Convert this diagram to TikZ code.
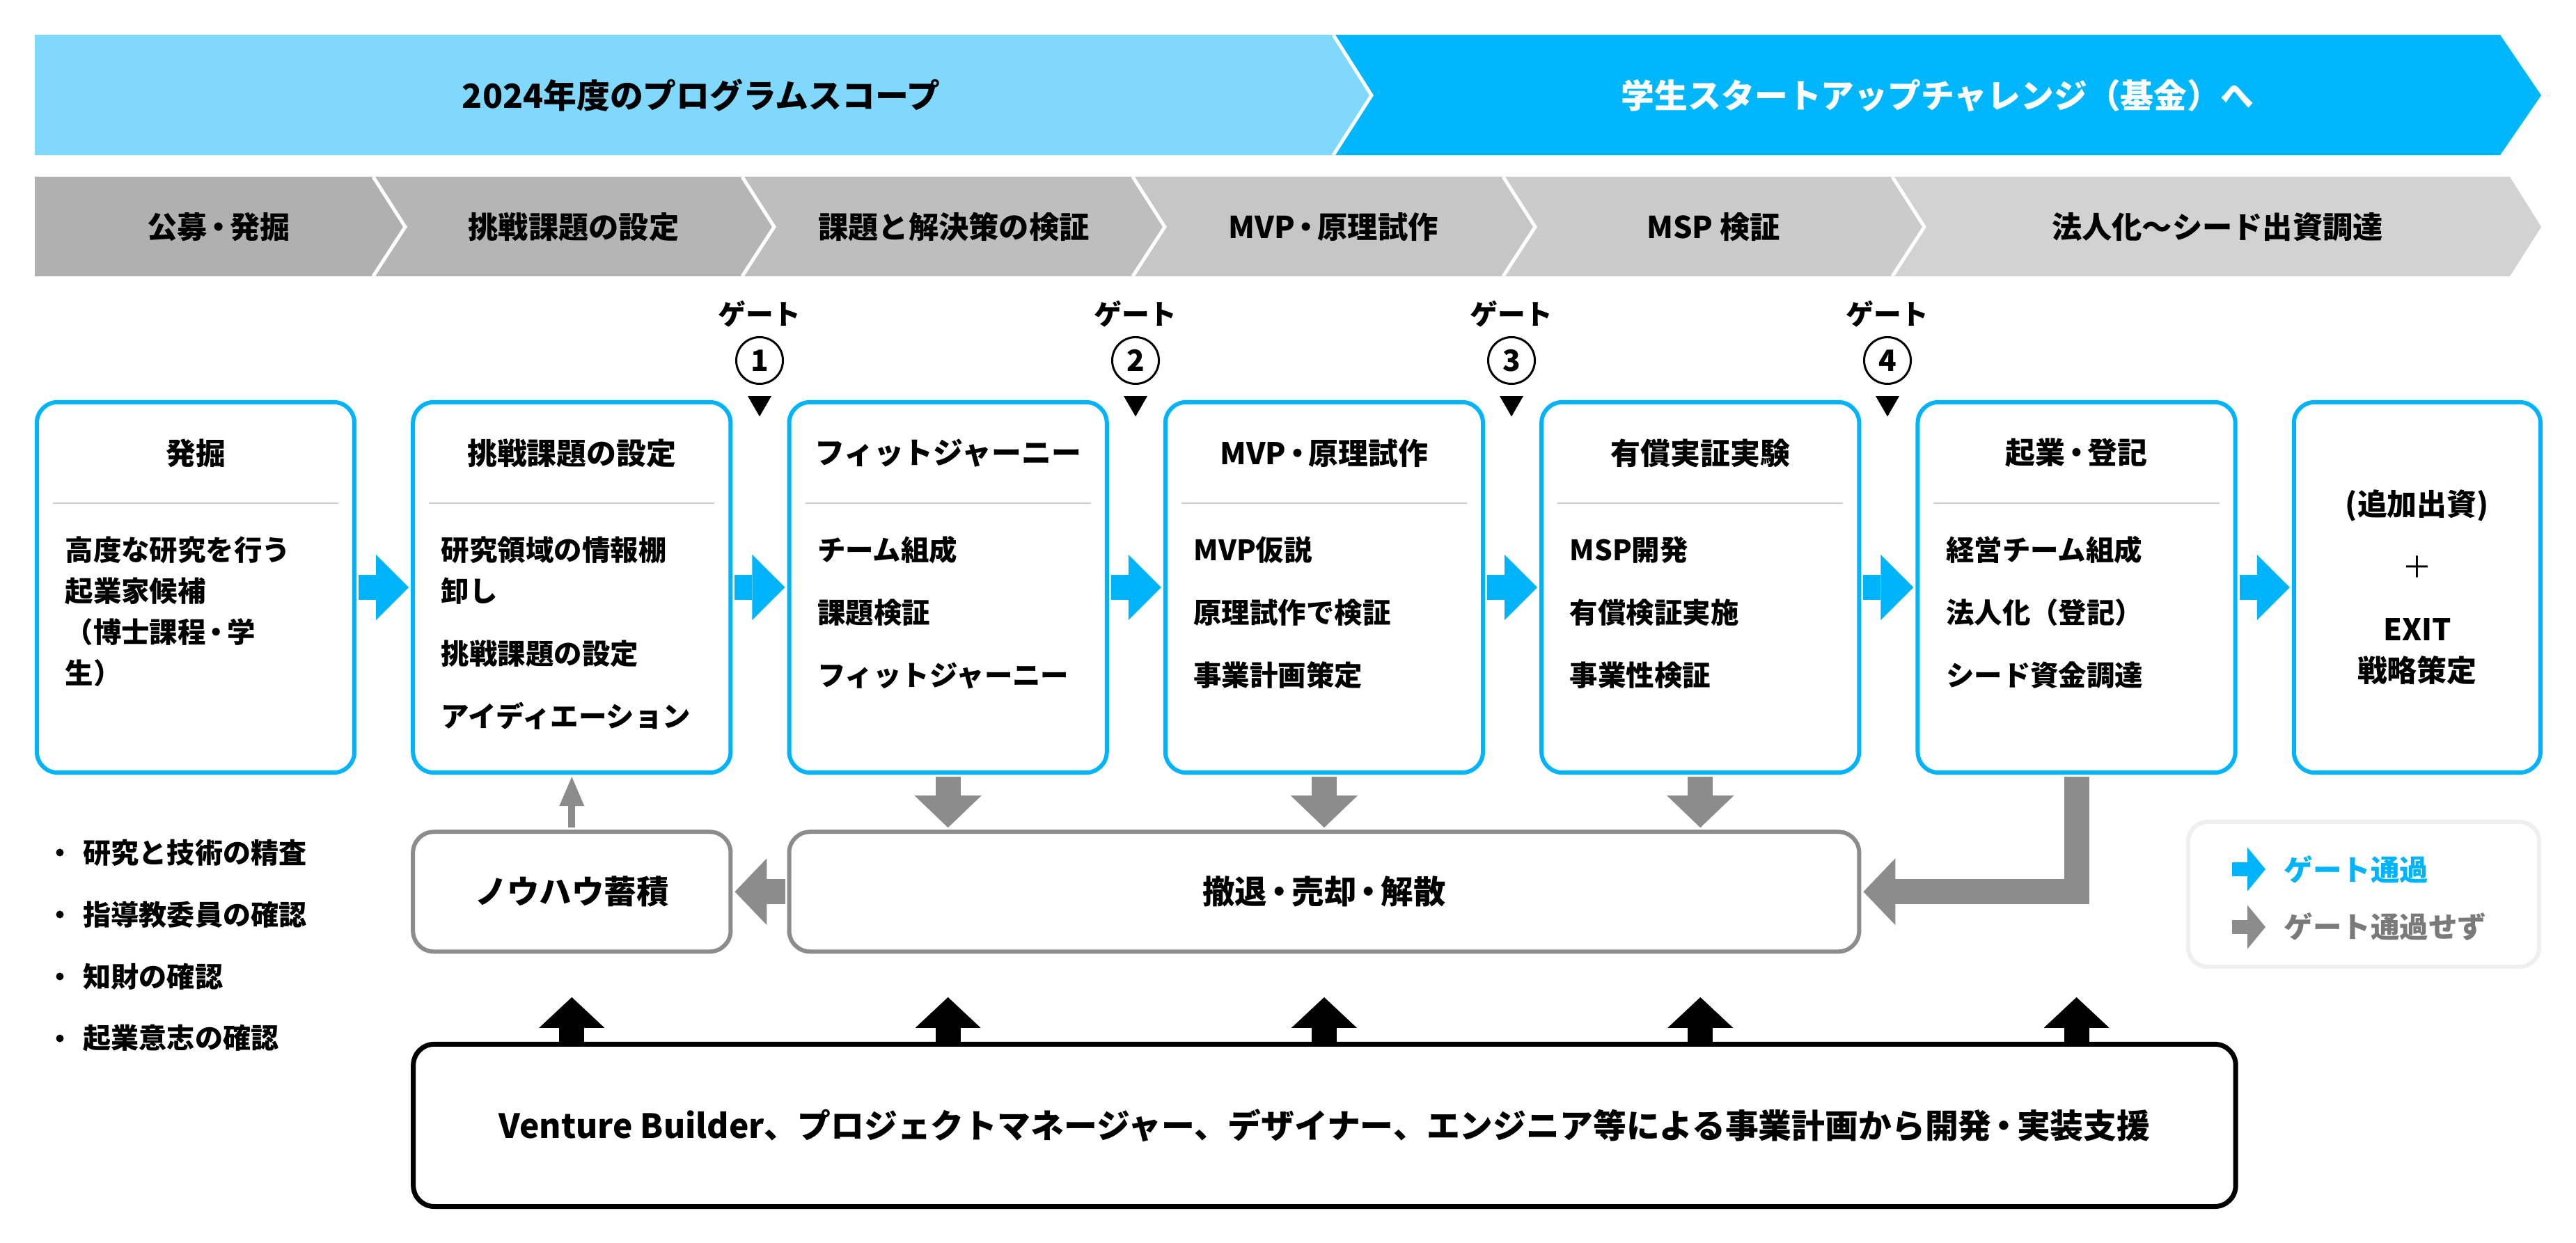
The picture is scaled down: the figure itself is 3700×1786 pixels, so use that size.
\documentclass[tikz,border=0pt]{standalone}
\usepackage{fontspec}
\setmainfont{Noto Sans CJK JP}
\usetikzlibrary{arrows.meta,positioning,shapes.geometric}

\definecolor{scopeblue}{HTML}{80D8FC}
\definecolor{fundblue}{HTML}{00B7FD}
\definecolor{passblue}{HTML}{00B4FC}
\definecolor{failgray}{HTML}{8C8C8C}
\definecolor{rulegray}{HTML}{CCCCCC}
\definecolor{legendline}{HTML}{EFEFEF}
\definecolor{legendtext}{HTML}{7A7A7A}
\definecolor{phaseA}{HTML}{B0B0B0}
\definecolor{phaseB}{HTML}{B5B5B5}
\definecolor{phaseC}{HTML}{BEBEBE}
\definecolor{phaseD}{HTML}{C6C6C6}
\definecolor{phaseE}{HTML}{CBCBCB}
\definecolor{phaseF}{HTML}{D2D2D2}

\newcommand{\tightdot}{\kern-0.12em・\kern-0.12em}

\tikzset{
  base/.style={
    inner sep=0pt,
    align=center,
  },
  stage/.style={
    base,
    draw=passblue,
    fill=white,
    line width=0.06cm,
    rounded corners=0.3cm,
    minimum width=4.56cm,
    minimum height=5.32cm,
  },
  stage-title/.style={
    base,
    font=\bfseries\fontsize{12.2pt}{16.8pt}\selectfont,
  },
  stage-items/.style={
    base,
    align=left,
    font=\bfseries\fontsize{11.5pt}{16.8pt}\selectfont,
  },
  divider/.style={
    draw=rulegray,
    line width=0.025cm,
  },
  outcome/.style={
    base,
    draw=failgray,
    fill=white,
    line width=0.06cm,
    rounded corners=0.3cm,
    minimum height=1.72cm,
    font=\bfseries\fontsize{13.2pt}{16pt}\selectfont,
  },
  backing/.style={
    base,
    draw=black,
    fill=white,
    line width=0.07cm,
    rounded corners=0.3cm,
    minimum width=26.16cm,
    minimum height=2.33cm,
    font=\bfseries\fontsize{13.6pt}{16pt}\selectfont,
  },
  legend-box/.style={
    draw=legendline,
    line width=0.06cm,
    rounded corners=0.28cm,
    minimum width=5.04cm,
    minimum height=2.08cm,
  },
  band-text/.style={
    base,
    font=\bfseries\fontsize{13.6pt}{16pt}\selectfont,
  },
  phase-text/.style={
    base,
    font=\bfseries\fontsize{12.3pt}{16pt}\selectfont,
  },
  notch/.style={
    draw=white,
    line width=0.05cm,
  },
  gate-label/.style={
    base,
    font=\bfseries\fontsize{11.3pt}{14pt}\selectfont,
  },
  gate-num/.style={
    base,
    circle,
    draw,
    line width=0.03cm,
    minimum size=0.67cm,
    font=\bfseries\fontsize{12pt}{14pt}\selectfont,
  },
  gate-mark/.style={
    regular polygon,
    regular polygon sides=3,
    shape border rotate=180,
    fill=black,
    inner sep=0pt,
    minimum size=0.39cm,
  },
  check-text/.style={
    base,
    font=\bfseries\fontsize{11.4pt}{14pt}\selectfont,
  },
  legend-text/.style={
    base,
    font=\bfseries\fontsize{11.8pt}{14pt}\selectfont,
  },
  flow/.style={
    shorten <=0.03cm,
    shorten >=0.03cm,
  },
  pass/.style={
    flow,
    draw=passblue,
    line width=0.35cm,
    -{Triangle[width=0.94cm,length=0.47cm,line width=0pt]},
  },
  fail/.style={
    flow,
    draw=failgray,
    line width=0.36cm,
    -{Triangle[width=0.96cm,length=0.46cm,line width=0pt]},
  },
  fail-thin/.style={
    flow,
    draw=failgray,
    line width=0.1cm,
    -{Triangle[width=0.36cm,length=0.42cm,line width=0pt]},
  },
  lift/.style={
    draw=black,
    line width=0.36cm,
    -{Triangle[width=0.94cm,length=0.44cm,line width=0pt]},
  },
  legend-pass/.style={
    draw=passblue,
    line width=0.2cm,
    -{Triangle[width=0.63cm,length=0.26cm,line width=0pt]},
  },
  legend-fail/.style={
    draw=failgray,
    line width=0.2cm,
    -{Triangle[width=0.63cm,length=0.26cm,line width=0pt]},
  },
}

\begin{document}
\begin{tikzpicture}[x=0.01cm, y=-0.01cm]
    \useasboundingbox (0,0) rectangle (3700,1786);

    % Scope bands
    \fill[scopeblue] (50,50) -- (1915,50) -- (1970,137) -- (1915,223) -- (50,223) -- cycle;
    \fill[fundblue] (1915,50) -- (3591,50) -- (3650,137) -- (3591,223) -- (1915,223) -- (1970,137) -- cycle;
    \draw[notch] (1915,50) -- (1970,137) -- (1915,223);
    \node [band-text] (scope-title) at (1007,137) {2024年度のプログラムスコープ};
    \node [band-text, text=white] (fund-title) at (2783,137) {学生スタートアップチャレンジ（基金）へ};

    % Phase chevrons
    \fill[phaseA] (50,254) -- (536,254) -- (582,326) -- (536,397) -- (50,397) -- cycle;
    \fill[phaseB] (536,254) -- (1066,254) -- (1112,326) -- (1066,397) -- (536,397) -- (582,326) -- cycle;
    \fill[phaseC] (1066,254) -- (1627,254) -- (1673,326) -- (1627,397) -- (1066,397) -- (1112,326) -- cycle;
    \fill[phaseD] (1627,254) -- (2159,254) -- (2205,326) -- (2159,397) -- (1627,397) -- (1673,326) -- cycle;
    \fill[phaseE] (2159,254) -- (2718,254) -- (2764,326) -- (2718,397) -- (2159,397) -- (2205,326) -- cycle;
    \fill[phaseF] (2718,254) -- (3605,254) -- (3650,326) -- (3605,397) -- (2718,397) -- (2764,326) -- cycle;
    \draw[notch] (536,254) -- (582,326) -- (536,397);
    \draw[notch] (1066,254) -- (1112,326) -- (1066,397);
    \draw[notch] (1627,254) -- (1673,326) -- (1627,397);
    \draw[notch] (2159,254) -- (2205,326) -- (2159,397);
    \draw[notch] (2718,254) -- (2764,326) -- (2718,397);
    \node [phase-text] (phase-recruit) at (314,326) {公募\tightdot 発掘};
    \node [phase-text] (phase-challenge) at (824,326) {挑戦課題の設定};
    \node [phase-text] (phase-verify) at (1370,326) {課題と解決策の検証};
    \node [phase-text] (phase-mvp) at (1915,326) {MVP\tightdot 原理試作};
    \node [phase-text] (phase-msp) at (2461,326) {MSP 検証};
    \node [phase-text] (phase-seed) at (3185,326) {法人化〜シード出資調達};

    % Stage boxes
    \node [stage] (discovery) at (281,844) {};
    \node [stage, right=0.78cm of discovery] (challenge) {};
    \node [stage, right=0.78cm of challenge] (fit-journey) {};
    \node [stage, right=0.78cm of fit-journey] (mvp-proto) {};
    \node [stage, right=0.78cm of mvp-proto] (paid-poc) {};
    \node [stage, right=0.78cm of paid-poc] (incorporate) {};
    \node [stage, right=0.78cm of incorporate, minimum width=3.54cm] (exit-plan) {};

    \node [stage-title] (discovery-title) at ([yshift=-0.76cm]discovery.north) {発掘};
    \node [stage-title] (challenge-title) at ([yshift=-0.76cm]challenge.north) {挑戦課題の設定};
    \node [stage-title] (fit-journey-title) at ([yshift=-0.76cm]fit-journey.north) {フィットジャーニー};
    \node [stage-title] (mvp-proto-title) at ([yshift=-0.76cm]mvp-proto.north) {MVP\tightdot 原理試作};
    \node [stage-title] (paid-poc-title) at ([yshift=-0.76cm]paid-poc.north) {有償実証実験};
    \node [stage-title] (incorporate-title) at ([yshift=-0.76cm]incorporate.north) {起業\tightdot 登記};

    \draw[divider] ([xshift=0.26cm,yshift=-1.48cm]discovery.north west) -- ([xshift=-0.26cm,yshift=-1.48cm]discovery.north east);
    \draw[divider] ([xshift=0.26cm,yshift=-1.48cm]challenge.north west) -- ([xshift=-0.26cm,yshift=-1.48cm]challenge.north east);
    \draw[divider] ([xshift=0.26cm,yshift=-1.48cm]fit-journey.north west) -- ([xshift=-0.26cm,yshift=-1.48cm]fit-journey.north east);
    \draw[divider] ([xshift=0.26cm,yshift=-1.48cm]mvp-proto.north west) -- ([xshift=-0.26cm,yshift=-1.48cm]mvp-proto.north east);
    \draw[divider] ([xshift=0.26cm,yshift=-1.48cm]paid-poc.north west) -- ([xshift=-0.26cm,yshift=-1.48cm]paid-poc.north east);
    \draw[divider] ([xshift=0.26cm,yshift=-1.48cm]incorporate.north west) -- ([xshift=-0.26cm,yshift=-1.48cm]incorporate.north east);

    \node [stage-items, anchor=north west] (discovery-items) at ([xshift=0.43cm,yshift=-1.95cm]discovery.north west)
      {高度な研究を行う\\起業家候補\\（博士課程\tightdot 学\\生）};
    \node [stage-items, anchor=north west] (challenge-items) at ([xshift=0.43cm,yshift=-1.95cm]challenge.north west)
      {研究領域の情報棚\\卸し\\[8.8pt]挑戦課題の設定\\[8.8pt]アイディエーション};
    \node [stage-items, anchor=north west] (fit-journey-items) at ([xshift=0.43cm,yshift=-1.95cm]fit-journey.north west)
      {チーム組成\\[8.8pt]課題検証\\[8.8pt]フィットジャーニー};
    \node [stage-items, anchor=north west] (mvp-proto-items) at ([xshift=0.43cm,yshift=-1.95cm]mvp-proto.north west)
      {MVP仮説\\[8.8pt]原理試作で検証\\[8.8pt]事業計画策定};
    \node [stage-items, anchor=north west] (paid-poc-items) at ([xshift=0.43cm,yshift=-1.95cm]paid-poc.north west)
      {MSP開発\\[8.8pt]有償検証実施\\[8.8pt]事業性検証};
    \node [stage-items, anchor=north west] (incorporate-items) at ([xshift=0.43cm,yshift=-1.95cm]incorporate.north west)
      {経営チーム組成\\[8.8pt]法人化（登記）\\[8.8pt]シード資金調達};
    \node [stage-title] (exit-plan-text) at (exit-plan.center)
      {(追加出資)\\[8.8pt]{\mdseries ＋}\\[8.8pt]EXIT\\戦略策定};

    % Gates
    \node [gate-label] (gate1-label) at (1091,451) {ゲート};
    \node [gate-num] (gate1-num) at (1091,518) {1};
    \node [gate-mark] (gate1-mark) at (1091,579) {};
    \node [gate-label] (gate2-label) at (1631,451) {ゲート};
    \node [gate-num] (gate2-num) at (1631,518) {2};
    \node [gate-mark] (gate2-mark) at (1631,579) {};
    \node [gate-label] (gate3-label) at (2171,451) {ゲート};
    \node [gate-num] (gate3-num) at (2171,518) {3};
    \node [gate-mark] (gate3-mark) at (2171,579) {};
    \node [gate-label] (gate4-label) at (2711,451) {ゲート};
    \node [gate-num] (gate4-num) at (2711,518) {4};
    \node [gate-mark] (gate4-mark) at (2711,579) {};

    % Outcome boxes
    \node [outcome, minimum width=4.56cm, below=0.79cm of challenge] (knowhow) {ノウハウ蓄積};
    \node [outcome, minimum width=15.36cm, right=0.78cm of knowhow] (withdraw) {撤退\tightdot 売却\tightdot 解散};
    \node [backing, below right=1.265cm and 0cm of knowhow.south west] (support)
      {Venture Builder、プロジェクトマネージャー、デザイナー、エンジニア等による事業計画から開発\tightdot 実装支援};

    % Check list
    \fill (86,1225) circle (0.055cm);
    \node [check-text, anchor=west] (check-research) at (119,1225) {研究と技術の精査};
    \fill (86,1314) circle (0.055cm);
    \node [check-text, anchor=west] (check-advisor) at (119,1314) {指導教委員の確認};
    \fill (86,1403) circle (0.055cm);
    \node [check-text, anchor=west] (check-ip) at (119,1403) {知財の確認};
    \fill (86,1492) circle (0.055cm);
    \node [check-text, anchor=west] (check-will) at (119,1492) {起業意志の確認};

    % Gate passed
    \draw[pass] (discovery) -- (challenge);
    \draw[pass] (challenge) -- (fit-journey);
    \draw[pass] (fit-journey) -- (mvp-proto);
    \draw[pass] (mvp-proto) -- (paid-poc);
    \draw[pass] (paid-poc) -- (incorporate);
    \draw[pass] (incorporate) -- (exit-plan);

    % Gate not passed
    \draw[fail] (fit-journey.south) -- (fit-journey.south |- withdraw.north);
    \draw[fail] (mvp-proto.south) -- (mvp-proto.south |- withdraw.north);
    \draw[fail] (paid-poc.south) -- (paid-poc.south |- withdraw.north);
    \draw[fail] (incorporate.south) |- (withdraw.east);
    \draw[fail] (withdraw.west) -- (knowhow.east);
    \draw[fail-thin] (knowhow.north) -- (challenge.south);

    % Support
    \draw[lift] (support.north -| challenge.south) -- ++(0,-64);
    \draw[lift] (support.north -| fit-journey.south) -- ++(0,-64);
    \draw[lift] (support.north -| mvp-proto.south) -- ++(0,-64);
    \draw[lift] (support.north -| paid-poc.south) -- ++(0,-64);
    \draw[lift] (support.north -| incorporate.south) -- ++(0,-64);

    % Legend
    \node [legend-box] (legend) at (3395,1285) {};
    \node [legend-text, anchor=west, text=passblue] (pass-label) at (3280,1249) {ゲート通過};
    \node [legend-text, anchor=west, text=legendtext] (fail-label) at (3280,1332) {ゲート通過せず};
    \draw[legend-pass] ([xshift=-0.74cm]pass-label.west) -- ([xshift=-0.26cm]pass-label.west);
    \draw[legend-fail] ([xshift=-0.74cm]fail-label.west) -- ([xshift=-0.26cm]fail-label.west);
\end{tikzpicture}
\end{document}
